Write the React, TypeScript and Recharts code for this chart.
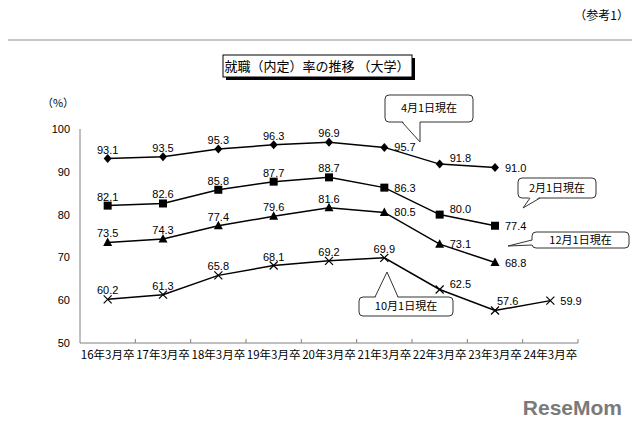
import { LineChart, Line, XAxis, YAxis, LabelList } from 'recharts'

const CATEGORIES = ['16年3月卒', '17年3月卒', '18年3月卒', '19年3月卒', '20年3月卒', '21年3月卒', '22年3月卒', '23年3月卒', '24年3月卒']
const APR_1 = [93.1, 93.5, 95.3, 96.3, 96.9, 95.7, 91.8, 91.0, null]
const FEB_1 = [82.1, 82.6, 85.8, 87.7, 88.7, 86.3, 80.0, 77.4, null]
const DEC_1 = [73.5, 74.3, 77.4, 79.6, 81.6, 80.5, 73.1, 68.8, null]
const OCT_1 = [60.2, 61.3, 65.8, 68.1, 69.2, 69.9, 62.5, 57.6, 59.9]
const Y_TICKS = [50, 60, 70, 80, 90, 100]

// where each value label sits relative to its point
type Place = 'top' | 'right' | 'upright' | 'over'
const APR_PLACE: Place[] = ['top', 'top', 'top', 'top', 'top', 'right', 'upright', 'right']
const FEB_PLACE: Place[] = ['top', 'top', 'top', 'top', 'top', 'right', 'upright', 'right']
const DEC_PLACE: Place[] = ['top', 'top', 'top', 'top', 'top', 'right', 'right', 'right']
const OCT_PLACE: Place[] = ['top', 'top', 'top', 'top', 'top', 'top', 'upright', 'over', 'right']

const data = CATEGORIES.map((name, i) => ({
  name,
  apr: APR_1[i],
  feb: FEB_1[i],
  dec: DEC_1[i],
  oct: OCT_1[i],
}))

const W = 640
const H = 430
const Y_W = 40
const M = { top: 129, right: 62, bottom: 67, left: 80 - Y_W }
const BAND = (W - 80 - M.right) / CATEGORIES.length
const JP = '"Noto Sans CJK JP", sans-serif'
const NUM = '"Liberation Sans", Arial, sans-serif'

const makeLabel = (places: Place[]) => (p: any) => {
  const { x, y, value, index } = p
  if (value == null) return null
  const pl = places[index] || 'top'
  let tx = x
  let ty = y - 5
  let anchor: 'middle' | 'start' = 'middle'
  if (pl === 'right') { tx = x + 10; ty = y + 4; anchor = 'start' }
  if (pl === 'upright') { tx = x + 10; ty = y - 2; anchor = 'start' }
  if (pl === 'over') { tx = x + 2; ty = y - 5; anchor = 'start' }
  return (
    <text key={`l-${index}`} x={tx} y={ty} textAnchor={anchor} fontSize={11} fontFamily={NUM} fill="#000">
      {Number(value).toFixed(1)}
    </text>
  )
}

const diamond = (p: any) => {
  const { cx, cy, index, value } = p
  if (value == null) return <g key={`d-${index}`} />
  return <polygon key={`d-${index}`} points={`${cx},${cy - 4.5} ${cx + 4},${cy} ${cx},${cy + 4.5} ${cx - 4},${cy}`} fill="#000" />
}
const square = (p: any) => {
  const { cx, cy, index, value } = p
  if (value == null) return <g key={`s-${index}`} />
  return <rect key={`s-${index}`} x={cx - 4} y={cy - 4} width={8} height={8} fill="#000" />
}
const triangle = (p: any) => {
  const { cx, cy, index, value } = p
  if (value == null) return <g key={`t-${index}`} />
  return <polygon key={`t-${index}`} points={`${cx},${cy - 5} ${cx + 4.5},${cy + 3.5} ${cx - 4.5},${cy + 3.5}`} fill="#000" />
}
const cross = (p: any) => {
  const { cx, cy, index, value } = p
  if (value == null) return <g key={`x-${index}`} />
  return (
    <g key={`x-${index}`} stroke="#000" strokeWidth={1.2}>
      <line x1={cx - 4} y1={cy - 4} x2={cx + 4} y2={cy + 4} />
      <line x1={cx - 4} y1={cy + 4} x2={cx + 4} y2={cy - 4} />
    </g>
  )
}

const XTick = (p: any) => {
  const { x, y, payload } = p
  const axisY = y - 7
  return (
    <g>
      <line x1={x + BAND / 2} y1={axisY} x2={x + BAND / 2} y2={axisY - 4} stroke="#808080" />
      <text x={x} y={y} dy="0.75em" textAnchor="middle" fontSize={11.5} fontFamily={JP} fill="#000">
        {payload.value}
      </text>
    </g>
  )
}

type Pt = [number, number]
function Callout({ x, y, w, h, text, b1, a, b2, inset }: { x: number; y: number; w: number; h: number; text: string; b1: Pt; a: Pt; b2: Pt; inset: Pt }) {
  const c1: Pt = [b1[0] + inset[0], b1[1] + inset[1]]
  const c2: Pt = [b2[0] + inset[0], b2[1] + inset[1]]
  return (
    <g>
      <rect x={x} y={y} width={w} height={h} rx={4} fill="#fff" stroke="#333" strokeWidth={1} />
      <polygon points={`${c1.join(',')} ${a.join(',')} ${c2.join(',')}`} fill="#fff" />
      <polyline points={`${b1.join(',')} ${a.join(',')} ${b2.join(',')}`} fill="none" stroke="#333" strokeWidth={1} />
      <text x={x + w / 2} y={y + h / 2} dy="0.36em" textAnchor="middle" fontSize={11} fontFamily={JP} fill="#000">
        {text}
      </text>
    </g>
  )
}

export default function App() {
  return (
    <div style={{ position: 'relative', width: W, height: H, margin: -8, background: '#fff', overflow: 'hidden' }}>
      <div style={{ position: 'absolute', left: 0, top: 0 }}>
        <LineChart width={W} height={H} data={data} margin={M}>
          <XAxis
            dataKey="name"
            height={20}
            padding={{ left: BAND / 2, right: BAND / 2 }}
            axisLine={{ stroke: '#808080' }}
            tickLine={false}
            tickSize={0}
            tickMargin={7}
            interval={0}
            tick={XTick}
          />
          <YAxis
            width={Y_W}
            domain={[50, 100]}
            ticks={Y_TICKS}
            interval={0}
            axisLine={{ stroke: '#808080' }}
            tickLine={false}
            tickMargin={4}
            tick={{ fontSize: 11, fill: '#000', fontFamily: NUM }}
          />
          <Line dataKey="apr" stroke="#000" strokeWidth={1.5} dot={diamond} isAnimationActive={false}>
            <LabelList dataKey="apr" content={makeLabel(APR_PLACE)} />
          </Line>
          <Line dataKey="feb" stroke="#000" strokeWidth={1.5} dot={square} isAnimationActive={false}>
            <LabelList dataKey="feb" content={makeLabel(FEB_PLACE)} />
          </Line>
          <Line dataKey="dec" stroke="#000" strokeWidth={1.5} dot={triangle} isAnimationActive={false}>
            <LabelList dataKey="dec" content={makeLabel(DEC_PLACE)} />
          </Line>
          <Line dataKey="oct" stroke="#000" strokeWidth={1.5} dot={cross} isAnimationActive={false}>
            <LabelList dataKey="oct" content={makeLabel(OCT_PLACE)} />
          </Line>
        </LineChart>
      </div>
      <svg width={W} height={H} style={{ position: 'absolute', left: 0, top: 0, pointerEvents: 'none' }}>
        <text x={629} y={20} textAnchor="end" fontSize={12} fontFamily={JP} fill="#000">（参考1）</text>
        <rect x={6} y={40} width={628} height={384} fill="none" stroke="#c8c8c8" strokeWidth={2} />
        <rect x={226} y={58} width={189} height={22} fill="#000" />
        <rect x={223} y={55} width={189} height={22} fill="#fff" stroke="#000" strokeWidth={1} />
        <text x={317} y={66} dy="0.36em" textAnchor="middle" fontSize={13} fontFamily={JP} fill="#000">
          就職（内定）率の推移 （大学）
        </text>
        <text x={58} y={103} dy="0.36em" textAnchor="middle" fontSize={11} fontFamily={JP} fill="#000">（%）</text>
        <Callout x={385} y={95} w={88} h={27} text="4月1日現在" b1={[402, 122]} a={[420, 142]} b2={[420, 122]} inset={[0, -1.5]} />
        <Callout x={518} y={178} w={78} h={20} text="2月1日現在" b1={[530, 198]} a={[523, 208]} b2={[540, 198]} inset={[0, -1.5]} />
        <Callout x={532} y={232} w={97} h={16} text="12月1日現在" b1={[532, 240]} a={[508, 246]} b2={[532, 245]} inset={[1.5, 0]} />
        <Callout x={359} y={297} w={94} h={19} text="10月1日現在" b1={[375, 297]} a={[387, 272]} b2={[398, 297]} inset={[0, 1.5]} />
        <text x={622} y={415} textAnchor="end" fontSize={21} fontWeight="bold" fontFamily={NUM} fill="#7a7a7a">ReseMom</text>
      </svg>
    </div>
  )
}
